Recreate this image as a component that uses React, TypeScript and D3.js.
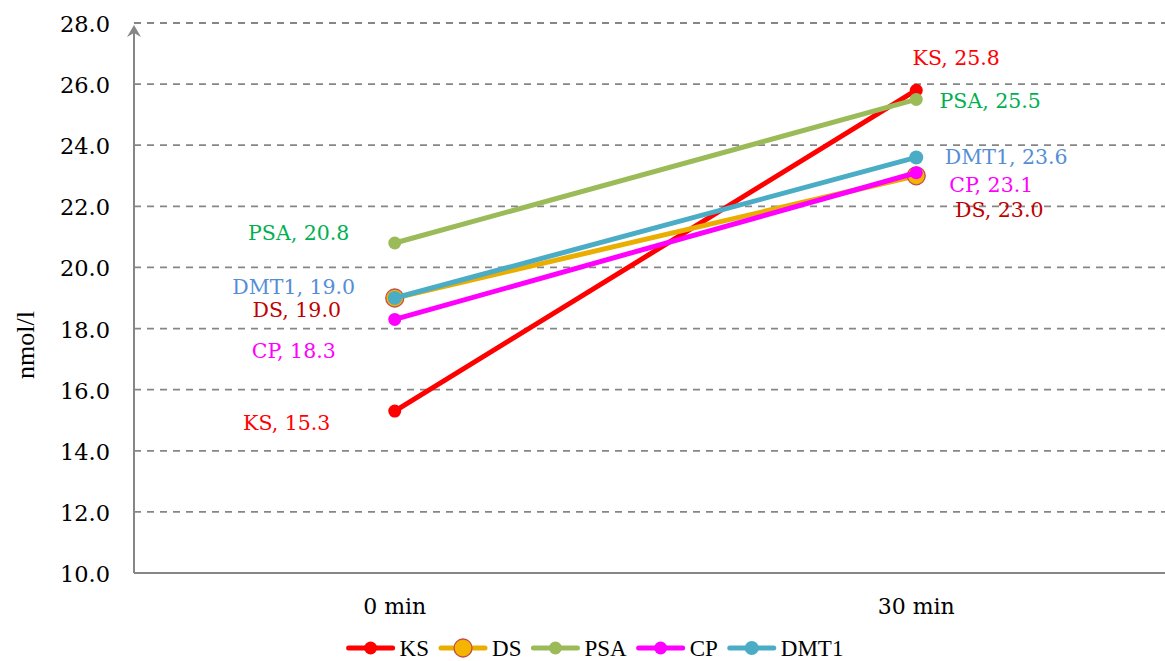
import React, { useRef, useEffect } from 'react';
import * as d3 from 'd3';

// Chart data
const categories = ['0 min', '30 min'];
const seriesNames = ['KS', 'DS', 'PSA', 'CP', 'DMT1'];
const ksValues = [15.3, 25.8];
const dsValues = [19.0, 23.0];
const psaValues = [20.8, 25.5];
const cpValues = [18.3, 23.1];
const dmt1Values = [19.0, 23.6];
const yTicks = [10, 12, 14, 16, 18, 20, 22, 24, 26, 28];
const yTitle = 'nmol/l';

const WIDTH = 1165;
const HEIGHT = 661;
const FONT = '"DejaVu Serif", Georgia, serif';
const FONT_TIMES = '"Liberation Serif", "Times New Roman", serif';
const AXIS_GRAY = '#868686';

// Styles per series (line colour, marker, label colour)
const seriesStyles: Record<string, { line: string; fill: string; stroke: string; r: number; label: string }> = {
  KS: { line: '#FF0000', fill: '#FF0000', stroke: '#FF0000', r: 6.5, label: '#FF0000' },
  DS: { line: '#EAAE00', fill: '#F4B400', stroke: '#C0504D', r: 9, label: '#C00000' },
  PSA: { line: '#9BBB59', fill: '#9BBB59', stroke: '#9BBB59', r: 6.5, label: '#00B050' },
  CP: { line: '#FF00FF', fill: '#FF00FF', stroke: '#FF00FF', r: 6.5, label: '#FF00FF' },
  DMT1: { line: '#4BACC6', fill: '#4BACC6', stroke: '#4BACC6', r: 7, label: '#558ED5' },
};

// Hand-placed data label offsets (px from the point, label centre), per category
const labelOffsets: Record<string, [number, number][]> = {
  KS: [[-108, 12], [40, -32]],
  DS: [[-98, 12], [83, 34]],
  PSA: [[-96, -10], [74, 2]],
  CP: [[-101, 32], [75, 12]],
  DMT1: [[-101, -11], [90, 0]],
};

const App: React.FC = () => {
  const svgRef = useRef<SVGSVGElement>(null);

  useEffect(() => {
    document.body.style.margin = '0';
    if (!svgRef.current) return;
    const svg = d3.select(svgRef.current);
    svg.selectAll('*').remove();

    const valuesByName: Record<string, number[]> = {
      KS: ksValues,
      DS: dsValues,
      PSA: psaValues,
      CP: cpValues,
      DMT1: dmt1Values,
    };

    const plot = { left: 134, right: 1177, top: 23, bottom: 573 };

    const x = d3.scalePoint<string>()
      .domain(categories)
      .range([plot.left, plot.right])
      .padding(0.5);

    const y = d3.scaleLinear()
      .domain([10, 28])
      .range([plot.bottom, plot.top]);

    // Dashed gridlines
    svg.append('g')
      .selectAll('line')
      .data(yTicks.filter(t => t !== 10))
      .join('line')
      .attr('x1', plot.left)
      .attr('x2', WIDTH)
      .attr('y1', d => y(d))
      .attr('y2', d => y(d))
      .attr('stroke', AXIS_GRAY)
      .attr('stroke-width', 1.8)
      .attr('stroke-dasharray', '7,6');

    // X axis baseline
    svg.append('line')
      .attr('x1', plot.left)
      .attr('x2', WIDTH)
      .attr('y1', plot.bottom)
      .attr('y2', plot.bottom)
      .attr('stroke', AXIS_GRAY)
      .attr('stroke-width', 2);

    // Y axis with arrow head
    svg.append('line')
      .attr('x1', plot.left)
      .attr('x2', plot.left)
      .attr('y1', plot.bottom)
      .attr('y2', plot.top + 10)
      .attr('stroke', AXIS_GRAY)
      .attr('stroke-width', 2);
    svg.append('path')
      .attr('d', `M${plot.left},${plot.top + 2} L${plot.left - 7},${plot.top + 14} L${plot.left},${plot.top + 10} L${plot.left + 7},${plot.top + 14} Z`)
      .attr('fill', AXIS_GRAY);

    // Y tick labels
    svg.append('g')
      .selectAll('text')
      .data(yTicks)
      .join('text')
      .attr('x', 110)
      .attr('y', d => y(d) + 1)
      .attr('text-anchor', 'end')
      .attr('dominant-baseline', 'central')
      .attr('font-family', FONT)
      .attr('font-size', 22.5)
      .attr('fill', '#000')
      .text(d => d.toFixed(1));

    // Y title
    svg.append('text')
      .attr('transform', `translate(34,345) rotate(-90)`)
      .attr('text-anchor', 'middle')
      .attr('font-family', FONT_TIMES)
      .attr('font-size', 26)
      .attr('fill', '#000')
      .text(yTitle);

    // X category labels
    svg.append('g')
      .selectAll('text')
      .data(categories)
      .join('text')
      .attr('x', d => x(d) as number)
      .attr('y', 614)
      .attr('text-anchor', 'middle')
      .attr('font-family', FONT)
      .attr('font-size', 22)
      .attr('fill', '#000')
      .text(d => d);

    // Series lines and markers
    const line = d3.line<number>()
      .x((_, i) => x(categories[i]) as number)
      .y(d => y(d));

    seriesNames.forEach(name => {
      const st = seriesStyles[name];
      const vals = valuesByName[name];
      svg.append('path')
        .datum(vals)
        .attr('fill', 'none')
        .attr('stroke', st.line)
        .attr('stroke-width', 5)
        .attr('stroke-linecap', 'round')
        .attr('d', line);
      svg.append('g')
        .selectAll('circle')
        .data(vals)
        .join('circle')
        .attr('cx', (_, i) => x(categories[i]) as number)
        .attr('cy', d => y(d))
        .attr('r', st.r)
        .attr('fill', st.fill)
        .attr('stroke', st.stroke)
        .attr('stroke-width', name === 'DS' ? 1.3 : 0);
    });

    // Data labels
    seriesNames.forEach(name => {
      const st = seriesStyles[name];
      const vals = valuesByName[name];
      svg.append('g')
        .selectAll('text')
        .data(vals)
        .join('text')
        .attr('x', (_, i) => (x(categories[i]) as number) + labelOffsets[name][i][0])
        .attr('y', (d, i) => y(d) + labelOffsets[name][i][1])
        .attr('text-anchor', 'middle')
        .attr('dominant-baseline', 'central')
        .attr('font-family', FONT)
        .attr('font-size', 20.5)
        .attr('fill', st.label)
        .text(d => `${name}, ${d.toFixed(1)}`);
    });

    // Legend
    const legend = svg.append('g');
    const lineLen = 44;
    const textGap = 7;
    const itemGap = 12;
    const legendY = 648;
    let cursor = 0;
    seriesNames.forEach(name => {
      const st = seriesStyles[name];
      const g = legend.append('g').attr('transform', `translate(${cursor},0)`);
      g.append('line')
        .attr('x1', 0)
        .attr('x2', lineLen)
        .attr('y1', legendY)
        .attr('y2', legendY)
        .attr('stroke', st.line)
        .attr('stroke-width', 5)
        .attr('stroke-linecap', 'round');
      g.append('circle')
        .attr('cx', lineLen / 2)
        .attr('cy', legendY)
        .attr('r', st.r)
        .attr('fill', st.fill)
        .attr('stroke', st.stroke)
        .attr('stroke-width', name === 'DS' ? 1.3 : 0);
      const t = g.append('text')
        .attr('x', lineLen + textGap)
        .attr('y', legendY + 8)
        .attr('font-family', FONT_TIMES)
        .attr('font-size', 23)
        .attr('fill', '#000')
        .text(name);
      const tw = (t.node() as SVGTextElement).getComputedTextLength();
      cursor += lineLen + textGap + tw + itemGap;
    });
    const legendWidth = cursor - itemGap;
    legend.attr('transform', `translate(${596 - legendWidth / 2},0)`);
  }, []);

  return (
    <svg
      ref={svgRef}
      width={WIDTH}
      height={HEIGHT}
      style={{ display: 'block', background: '#fff' }}
    />
  );
};

export default App;
